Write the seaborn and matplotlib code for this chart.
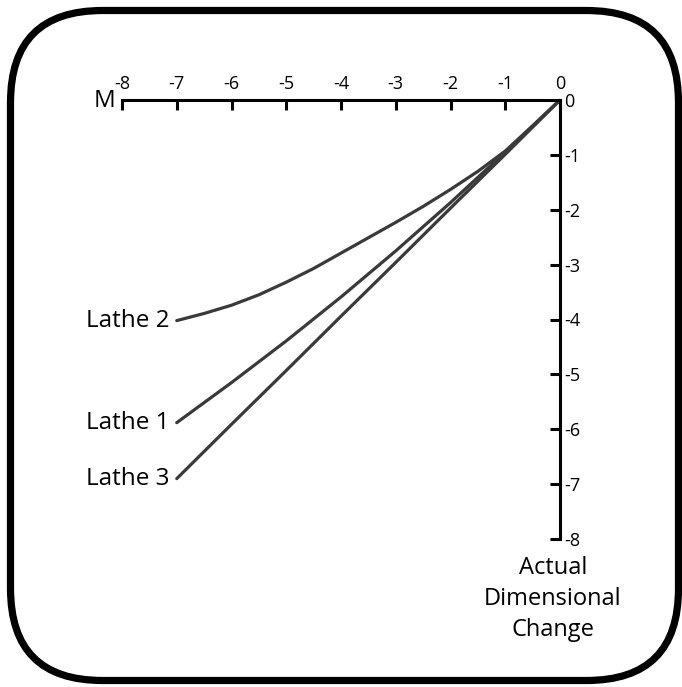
import pandas as pd
import seaborn as sns
import matplotlib.pyplot as plt
from matplotlib.patches import FancyBboxPatch

# values
x_half = [0, -0.5, -1, -1.5, -2, -2.5, -3, -3.5, -4, -4.5, -5, -5.5, -6, -6.5, -7]
x_int = [0, -1, -2, -3, -4, -5, -6, -7]
lathe_1 = [0, -0.95, -1.87, -2.75, -3.59, -4.39, -5.15, -5.88]
lathe_2 = [0, -0.47, -0.93, -1.30, -1.63, -1.94, -2.23, -2.51, -2.79, -3.07,
           -3.32, -3.55, -3.74, -3.89, -4.02]
lathe_3 = [0, -0.99, -1.97, -2.96, -3.94, -4.93, -5.91, -6.90]
series_names = ['Lathe 1', 'Lathe 2', 'Lathe 3']
series_x = [x_int, x_half, x_int]
series_y = [lathe_1, lathe_2, lathe_3]
ticks = list(range(-8, 1))

df = pd.concat([
    pd.DataFrame({'M': xs, 'Actual': ys, 'Lathe': name})
    for name, xs, ys in zip(series_names, series_x, series_y)
], ignore_index=True)

sns.set_style('white')
plt.rcParams['font.family'] = ['Open Sans', 'DejaVu Sans']
plt.rcParams['text.color'] = 'black'

W, H = 682, 687
fig = plt.figure(figsize=(W / 100, H / 100), dpi=100)

# rounded frame drawn in a pixel-space background axes
bg = fig.add_axes([0, 0, 1, 1])
bg.set_xlim(0, W)
bg.set_ylim(H, 0)
bg.axis('off')
frame = FancyBboxPatch((10.5, 10.5), 668, 670, boxstyle='round,pad=0,rounding_size=92',
                       fc='white', ec='black', lw=5.2)
bg.add_patch(frame)

ax = fig.add_axes([122 / W, 1 - 539 / H, 438 / W, 439 / H])
ax.patch.set_alpha(0)
sns.lineplot(data=df, x='M', y='Actual', hue='Lathe', palette=['#3a3a3a'] * 3,
             linewidth=2.3, legend=False, ax=ax, estimator=None, sort=False)
for line in ax.lines:
    line.set_solid_joinstyle('round')

ax.set_xlim(-8, 0)
ax.set_ylim(-8, 0)
ax.set_xticks(ticks)
ax.set_yticks(ticks)
ax.set_xticklabels([str(t) for t in ticks])
ax.set_yticklabels([str(t) for t in ticks])
ax.xaxis.tick_top()
ax.yaxis.tick_right()
ax.tick_params(axis='both', direction='in', length=7.5, width=2.2, color='black',
               labelsize=13, labelcolor='black')
ax.tick_params(axis='x', pad=5)
ax.tick_params(axis='y', pad=3)
for side in ['left', 'bottom']:
    ax.spines[side].set_visible(False)
for side in ['top', 'right']:
    ax.spines[side].set_visible(True)
    ax.spines[side].set_linewidth(2.2)
    ax.spines[side].set_color('black')
    ax.spines[side].set_capstyle('projecting')
ax.set_xlabel('')
ax.set_ylabel('')

# end labels for each lathe
for name, xs, ys in zip(series_names, series_x, series_y):
    ax.annotate(name, xy=(xs[-1], ys[-1]), xytext=(-5, 0), textcoords='offset points',
                ha='right', va='center', fontsize=17.5, clip_on=False)

ax.annotate('M', xy=(-8, 0), xytext=(-5, -1), textcoords='offset points',
            ha='right', va='center', fontsize=17.5, clip_on=False)
ax.annotate('Actual\nDimensional\nChange', xy=(0, -8), xytext=(-5, -12),
            textcoords='offset points', ha='center', va='top', fontsize=17,
            linespacing=1.4, clip_on=False)

fig.savefig('out.png', dpi=100)
